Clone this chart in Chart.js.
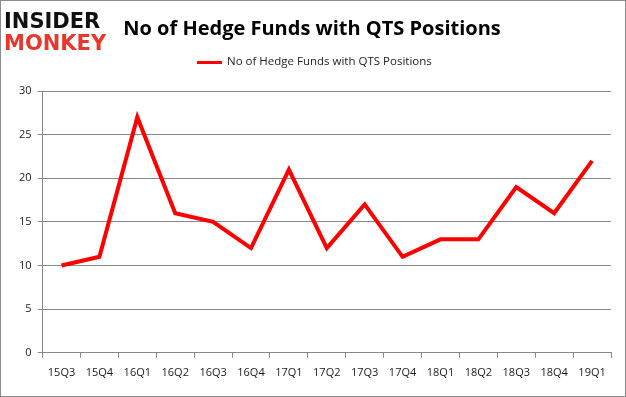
<!DOCTYPE html>
<html>
<head>
<meta charset="utf-8">
<script src="https://cdn.jsdelivr.net/npm/chart.js@4"></script>
<style>
  html, body { margin: 0; padding: 0; background: #fff; }
  #wrap { width: 626px; height: 397px; position: relative; }
</style>
</head>
<body>
<div id="wrap"><canvas id="chart" width="626" height="397"></canvas></div>
<script>
// Chart data
const quarters = ['15Q3', '15Q4', '16Q1', '16Q2', '16Q3', '16Q4', '17Q1', '17Q2', '17Q3', '17Q4', '18Q1', '18Q2', '18Q3', '18Q4', '19Q1'];
const hedgeFunds = [10, 11, 27, 16, 15, 12, 21, 12, 17, 11, 13, 13, 19, 16, 22];
const yTicks = [0, 5, 10, 15, 20, 25, 30];

const seriesName = 'No of Hedge Funds with QTS Positions';
const font = "'Open Sans', 'DejaVu Sans', sans-serif";

// Logo, title, legend and outer frame
const decorPlugin = {
    id: 'decor',
    beforeDraw(chart) {
        const ctx = chart.ctx;
        ctx.save();
        ctx.fillStyle = '#fff';
        ctx.fillRect(0, 0, chart.width, chart.height);
        ctx.restore();
    },
    afterDraw(chart) {
        const ctx = chart.ctx;
        ctx.save();
        ctx.strokeStyle = '#8c8c8c';
        ctx.lineWidth = 1;
        ctx.strokeRect(0.5, 0.5, chart.width - 1, chart.height - 1);

        ctx.textBaseline = 'alphabetic';
        ctx.font = "900 21px 'DejaVu Sans', sans-serif";
        ctx.fillStyle = '#111';
        ctx.fillText('INSIDER', 4, 28);
        ctx.fillStyle = '#e8372c';
        ctx.fillText('MONKEY', 4, 50);

        ctx.font = "bold 20px " + font;
        ctx.fillStyle = '#000';
        ctx.textAlign = 'center';
        ctx.fillText('No of Hedge Funds with QTS Positions', 312, 35);

        // legend
        const ds = chart.data.datasets[0];
        ctx.strokeStyle = ds.borderColor;
        ctx.lineWidth = 3;
        ctx.beginPath();
        ctx.moveTo(197, 62.5);
        ctx.lineTo(222, 62.5);
        ctx.stroke();
        ctx.font = "11.5px " + font;
        ctx.fillStyle = '#222';
        ctx.textAlign = 'left';
        ctx.textBaseline = 'middle';
        ctx.fillText(ds.label, 227, 62);
        ctx.restore();
    }
};

new Chart(document.getElementById('chart').getContext('2d'), {
    type: 'line',
    data: {
        labels: quarters,
        datasets: [{
            label: seriesName,
            data: hedgeFunds,
            borderColor: '#ff0000',
            backgroundColor: '#ff0000',
            borderWidth: 4,
            pointRadius: 0,
            tension: 0,
            fill: false
        }]
    },
    options: {
        responsive: false,
        animation: false,
        layout: { padding: { top: 91, right: 15, left: 13, bottom: 10 } },
        plugins: {
            title: { display: false },
            tooltip: { enabled: false },
            legend: { display: false }
        },
        scales: {
            x: {
                offset: true,
                grid: {
                    display: true,
                    offset: true,
                    drawOnChartArea: false,
                    drawTicks: true,
                    tickLength: 5,
                    color: '#888'
                },
                border: { color: '#888' },
                ticks: {
                    color: '#1a1a1a',
                    font: { family: font, size: 11 },
                    maxRotation: 0,
                    autoSkip: false,
                    padding: 8
                }
            },
            y: {
                min: 0,
                max: 30,
                afterBuildTicks(axis) {
                    axis.ticks = yTicks.map(v => ({ value: v }));
                },
                grid: {
                    color: '#888',
                    tickLength: 5
                },
                border: { color: '#888' },
                ticks: {
                    color: '#1a1a1a',
                    font: { family: font, size: 11 },
                    padding: 6
                }
            }
        }
    },
    plugins: [decorPlugin]
});
</script>
</body>
</html>
